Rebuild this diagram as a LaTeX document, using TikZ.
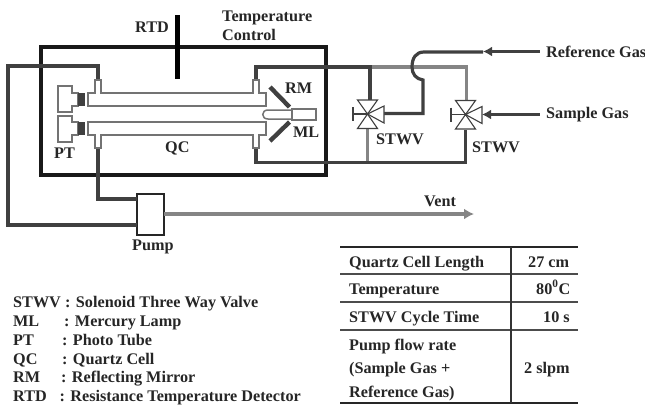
\documentclass[tikz,border=0pt]{standalone}
\usepackage{fontspec}
\setmainfont{Liberation Serif}
\usetikzlibrary{arrows.meta}
\definecolor{dk}{gray}{0.25}
\definecolor{gr}{gray}{0.52}
\definecolor{sh}{gray}{0.45}
\tikzset{
 lbl/.style={font=\fontsize{16.2}{18}\selectfont\bfseries,text=black!85,inner sep=0pt,anchor=base west},
 leg/.style={font=\fontsize{16.2}{18}\selectfont\bfseries,text=black!85,inner sep=0pt,anchor=base west},
 cell/.style={font=\fontsize{16.2}{18}\selectfont\bfseries,text=black!85,inner sep=0pt,anchor=base west},
 wire/.style={draw=dk,line width=3.2pt},
 gwire/.style={draw=gr,line width=3.2pt},
 shell/.style={draw=sh,line width=1.5pt,fill=white},
 valve/.style={draw=black!75,line width=1.1pt,fill=white}
}
\begin{document}
\begin{tikzpicture}[x=1pt,y=-1pt]
\useasboundingbox (0,0) rectangle (645,405);
% oven
\draw[draw=black!90,line width=3.6pt] (41,47) rectangle (326,175);
\draw[draw=black,line width=5pt] (177,15) -- (177,79);
% wires
\coordinate (pl) at (98,80);\coordinate (pd) at (98,148);
\coordinate (qu) at (256,80);\coordinate (qd) at (256,148);
\node[draw=black!85,line width=2.2pt,fill=white,minimum width=27pt,minimum height=41pt,inner sep=0pt,outer sep=0pt] (pump) at (150.5,214.5) {};
\coordinate (a1) at (8,66);\coordinate (a2) at (8,225);\coordinate (a3) at (98,199);
\draw[wire] (pl) |- (a1) -- (a2) -- (pump.west |- a2);
\draw[wire] (pd) -- (a3) -- (pump.west |- a3);
\coordinate (v1) at (367.5,114);\coordinate (v2) at (465.5,114.5);
\coordinate (e1) at (370,67);\coordinate (e2) at (466.5,67);\coordinate (e3) at (465.5,162.5);
\coordinate (vent) at (474,214);\coordinate (refend) at (540,51.5);\coordinate (samend) at (540,114.5);
\draw[gwire] (e1) -- (e2) -- (466.5,100);
\draw[wire] (qu) |- (e1) -- (370,100);
\draw[gwire] (367.5,129) -- (367.5,162.5);
\draw[wire] (qd) |- (e3) -- (465.5,130);
\draw[-{Latex[length=10pt,width=11pt]},draw=gr,color=gr,line width=3.2pt] (pump.east |- vent) -- (vent);
% reference gas
\draw[wire] (483,52) -- (424,52) .. controls (416,52) and (412,58) .. (412,67) .. controls (412,74) and (416,79) .. (423,80) -- (423,113.5) -- (384,113.5);
\draw[wire,{Latex[length=9pt,width=10pt]}-] (483,51.5) -- (refend);
\draw[wire,{Latex[length=9pt,width=10pt]}-] (482,114.5) -- (samend);
% tube
\draw[shell] (88,93) -- (95,93) -- (95,80) -- (101,80) -- (101,93) -- (253,93) -- (253,80) -- (259,80) -- (259,93) -- (266,93) -- (266,106) -- (88,106) -- cycle;
\draw[shell] (88,122) -- (266,122) -- (266,135) -- (259,135) -- (259,148) -- (253,148) -- (253,135) -- (101,135) -- (101,148) -- (95,148) -- (95,135) -- (88,135) -- cycle;
% photo tubes
\draw[shell] (58,86) -- (72,86) -- (72,93) -- (78,93) -- (78,106) -- (72,106) -- (72,112) -- (58,112) -- cycle;
\draw[shell] (58,116) -- (72,116) -- (72,122) -- (78,122) -- (78,135) -- (72,135) -- (72,142) -- (58,142) -- cycle;
\fill[black!75] (78,93) rectangle (85,106);
\fill[black!75] (78,122) rectangle (85,135);
% lamp
\draw[shell] (292,110) -- (268,110) .. controls (261,110) and (261,119) .. (268,119) -- (292,119);
\draw[shell] (292,109) rectangle (316,120);
\draw[draw=dk,line width=4.4pt] (270,87) -- (289.5,107);
\draw[draw=dk,line width=4.4pt] (270,141) -- (289.5,122);
% valves
\foreach \n in {v1,v2}{
\draw[valve] (\n) -- ++(-10,-14) -- ++(20,0) -- cycle;
\draw[valve] (\n) -- ++(-10,14.5) -- ++(20,0) -- cycle;
\draw[valve] (\n) -- ++(16.5,-8) -- ++(0,17) -- cycle;
\draw[valve] (\n) -- ++(-14.5,0) ++(0,-7) -- ++(0,14);
}
% labels
\node[lbl] (t1) at (135,32) {RTD};
\node[lbl] (t2) at (222,21) {Temperature};
\node[lbl] (t3) at (222,40) {Control};
\node[lbl] (t4) at (285,93) {RM};
\node[lbl] (t5) at (293,137) {ML};
\node[lbl] (t6) at (54,158) {PT};
\node[lbl] (t7) at (165,152) {QC};
\node[lbl] (t8) at (376,144) {STWV};
\node[lbl] (t9) at (472,152) {STWV};
\node[lbl] (t10) at (546,57) {Reference Gas};
\node[lbl] (t11) at (546,118) {Sample Gas};
\node[lbl] (t12) at (424,206) {Vent};
\node[lbl] (t13) at (132,250) {Pump};
% legend
\foreach \k/\yy/\a/\cx/\b in {1/307/STWV/65/: Solenoid Three Way Valve,2/326/ML/64/: Mercury Lamp,3/345/PT/62/: Photo Tube,4/364/QC/62/: Quartz Cell,5/382.5/RM/61/: Reflecting Mirror,6/401/RTD/59.5/: Resistance Temperature Detector}{
\node[leg] (l\k) at (13,\yy) {\a};
\node[leg] (m\k) at (\cx,\yy) {\b};
}
% table
\draw[draw=black!85,line width=2.2pt] (340,247) -- (578,247);
\draw[draw=black!70,line width=1.6pt] (340,274) -- (578,274) (340,302) -- (578,302) (340,330) -- (578,330);
\draw[draw=black!85,line width=2.4pt] (340,403) -- (578,403);
\draw[draw=black!80,line width=1.2pt] (511,247) -- (511,403);
\node[cell] (c1) at (349,267) {Quartz Cell Length};
\node[cell] (c2) at (349,294) {Temperature};
\node[cell] (c3) at (349,322) {STWV Cycle Time};
\node[cell] (c4) at (349,350) {Pump flow rate};
\node[cell] (c5) at (349,373) {(Sample Gas +};
\node[cell] (c6) at (349,397) {Reference Gas)};
\node[cell] (d1) at (528,267) {27 cm};
\node[cell] (d2) at (536,294) {80\textsuperscript{0}C};
\node[cell] (d3) at (543,322) {10 s};
\node[cell] (d4) at (524,373) {2 slpm};
\end{tikzpicture}
\end{document}
